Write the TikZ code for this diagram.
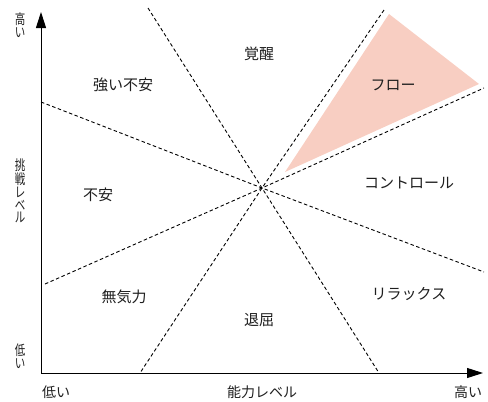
\documentclass[tikz,border=0pt]{standalone}
\usepackage{fontspec}
\setmainfont{Noto Sans CJK JP}
\usetikzlibrary{arrows.meta}
\definecolor{flowfill}{RGB}{248,206,194}
\definecolor{txt}{RGB}{30,30,30}
\begin{document}
\begin{tikzpicture}[x=1pt,y=-1pt,
  region/.style={font=\fontsize{15}{15}\selectfont, text=txt, inner sep=0pt},
  axlab/.style={font=\fontsize{14}{14}\selectfont, text=txt, inner sep=0pt},
  vlab/.style={font=\fontsize{14}{12.8}\selectfont, text=txt, inner sep=0pt, align=center, xscale=0.75, transform shape},
  divider/.style={draw=black, line width=0.9pt, dash pattern=on 3.5pt off 2.5pt},
  axis/.style={draw=black, line width=1pt, -{Triangle[length=16pt,width=10pt]}}]
\useasboundingbox (0,0) rectangle (488,402);
% flow triangle
\coordinate (f1) at (285,172);
\coordinate (f2) at (389,14);
\coordinate (f3) at (479,84);
\fill[flowfill] (f1) -- (f2) -- (f3) -- cycle;
% center and divider ends
\coordinate (c) at (262,188);
\coordinate (a1) at (148,8);
\coordinate (a2) at (379,373);
\coordinate (b1) at (384,10);
\coordinate (b2) at (140,373);
\coordinate (d1) at (41,102);
\coordinate (d2) at (484,272);
\coordinate (e1) at (45,284);
\coordinate (e2) at (484,88);
\draw[divider] (a1) -- (c) -- (a2);
\draw[divider] (b1) -- (c) -- (b2);
\draw[divider] (d1) -- (c) -- (d2);
\draw[divider] (e1) -- (c) -- (e2);
% axes
\coordinate (o) at (41,373);
\coordinate (ytip) at (41,12);
\coordinate (xtip) at (483,373);
\draw[axis] (o) -- (ytip);
\draw[axis] (o) -- (xtip);
% region labels
\node[region] (kakusei) at (259,54) {覚醒};
\node[region] (tsuyoi) at (123,85) {強い不安};
\node[region] (flow) at (393,85) {フロー};
\node[region] (fuan) at (98,195) {不安};
\node[region] (control) at (409,183) {コントロール};
\node[region] (muki) at (124,297) {無気力};
\node[region] (taikutsu) at (259,320) {退屈};
\node[region] (relax) at (409,294) {リラックス};
% axis labels
\node[vlab] (yhigh) at (20,25) {高\\い};
\node[vlab] (ylab) at (20,191) {挑\\戦\\レ\\ベ\\ル};
\node[vlab] (ylow) at (20,356) {低\\い};
\node[axlab] (xlow) at (56,392) {低い};
\node[axlab] (xlab) at (262,392) {能力レベル};
\node[axlab] (xhigh) at (468,392) {高い};
\end{tikzpicture}
\end{document}
